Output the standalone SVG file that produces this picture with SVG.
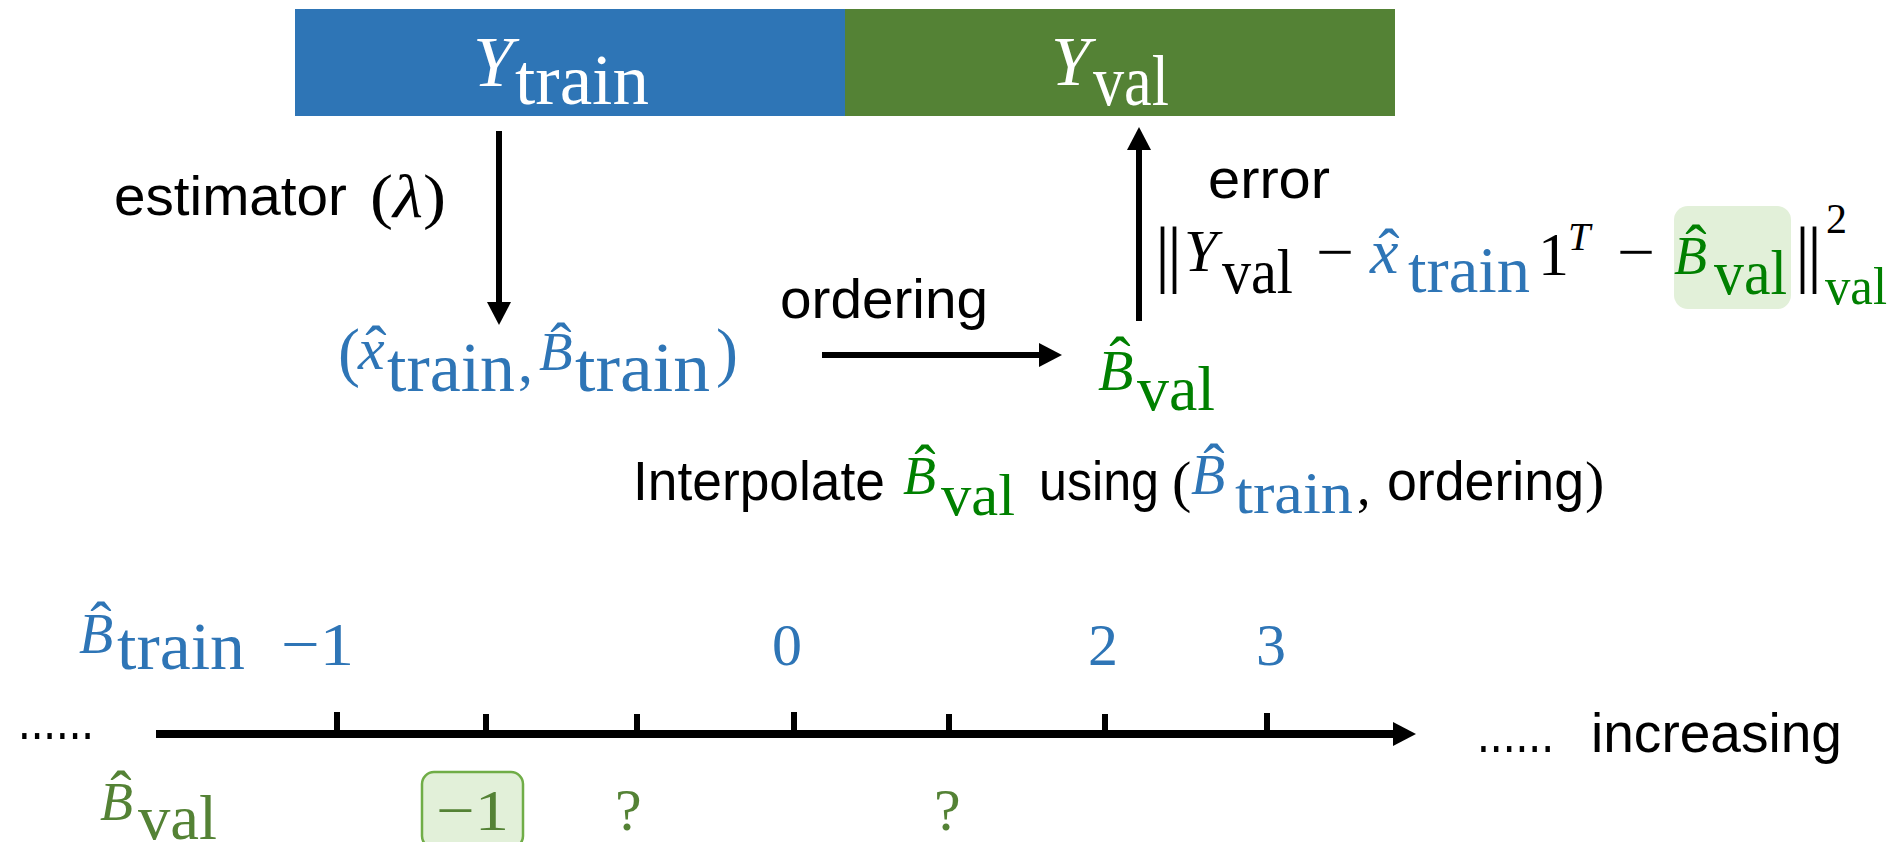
<svg xmlns="http://www.w3.org/2000/svg" width="1901" height="842" viewBox="0 0 1901 842">
<style>
.lab{font-family:"Liberation Sans",Arial,sans-serif;font-size:56px;fill:#000}
.m{font-family:"Liberation Serif","Times New Roman",serif}
.i{font-style:italic}
.b{fill:#2E75B6}
.g{fill:#008000}
.o{fill:#548235}
.w{fill:#FFFFFF}
.k{fill:#000}
.nb{font-size:75px;letter-spacing:-3px}
.hat{font-family:"Liberation Serif","Times New Roman",serif;font-size:64px;text-anchor:middle}
.conn{stroke:#000;stroke-width:6;fill:none}
</style>
<defs>
<marker id="ah" viewBox="0 -12 23 24" refX="1" refY="0" markerWidth="23" markerHeight="24" markerUnits="userSpaceOnUse" orient="auto">
<path d="M0,-12 L23,0 L0,12 z" fill="#000"/>
</marker>
</defs>

<g id="data-bar">
<rect x="295" y="9" width="550" height="107" fill="#2E75B6"/>
<rect x="845" y="9" width="550" height="107" fill="#548235"/>
<text class="m i w" x="473" y="86" font-size="72">Y</text>
<text class="m w" x="515" y="104" font-size="72" textLength="134" lengthAdjust="spacingAndGlyphs">train</text>
<text class="m i w" x="1051" y="85" font-size="70">Y</text>
<text class="m w" x="1093" y="105" font-size="72" textLength="76" lengthAdjust="spacingAndGlyphs">val</text>
</g>

<g id="connectors">
<line class="conn" x1="499" y1="131" x2="499" y2="303" marker-end="url(#ah)"/>
<line class="conn" x1="822" y1="355" x2="1040" y2="355" marker-end="url(#ah)"/>
<line class="conn" x1="1139" y1="321" x2="1139" y2="149" marker-end="url(#ah)"/>
</g>

<g id="estimator-label">
<text class="lab" x="114" y="215" textLength="233" lengthAdjust="spacingAndGlyphs">estimator</text>
<text class="m k" x="370" y="217" font-size="62" textLength="76" lengthAdjust="spacingAndGlyphs">(<tspan class="i">λ</tspan>)</text>
</g>

<g id="train-estimates">
<text class="m b" x="338" y="374" font-size="66">(</text>
<text class="m i b" x="358" y="369" font-size="60">x</text>
<text class="hat b" x="376" y="370">ˆ</text>
<text class="m b" x="387" y="391" font-size="70" textLength="128" lengthAdjust="spacingAndGlyphs">train</text>
<text class="m b" x="518" y="382" font-size="60">,</text>
<text class="m i b" x="539" y="370" font-size="55">B</text>
<text class="hat b" x="561" y="367">ˆ</text>
<text class="m b" x="575" y="391" font-size="70" textLength="135" lengthAdjust="spacingAndGlyphs">train</text>
<text class="m b" x="716" y="374" font-size="66">)</text>
</g>

<g id="ordering-label">
<text class="lab" x="780" y="318" textLength="208" lengthAdjust="spacingAndGlyphs">ordering</text>
</g>

<g id="val-estimate">
<text class="m i g" x="1098" y="390" font-size="58">B</text>
<text class="hat g" x="1120" y="381">ˆ</text>
<text class="m g" x="1137" y="410" font-size="64" textLength="78" lengthAdjust="spacingAndGlyphs">val</text>
</g>

<g id="error-label">
<text class="lab" x="1208" y="198" textLength="122" lengthAdjust="spacingAndGlyphs">error</text>
</g>

<g id="error-formula">
<rect x="1674" y="206" width="117" height="103" rx="14" fill="#E2F0D9"/>
<text class="m k nb" x="1155" y="278">||</text>
<text class="m i k" x="1184" y="271" font-size="60">Y</text>
<text class="m k" x="1222" y="293" font-size="64" textLength="71" lengthAdjust="spacingAndGlyphs">val</text>
<text class="m k" x="1316" y="272" font-size="60" textLength="38" lengthAdjust="spacingAndGlyphs">−</text>
<text class="m i b" x="1370" y="273" font-size="64">x</text>
<text class="hat b" x="1389" y="273">ˆ</text>
<text class="m b" x="1408" y="292" font-size="66" textLength="122" lengthAdjust="spacingAndGlyphs">train</text>
<text class="m k" x="1538" y="275" font-size="62">1</text>
<text class="m i k" x="1568" y="250" font-size="40">T</text>
<text class="m k" x="1617" y="272" font-size="60" textLength="38" lengthAdjust="spacingAndGlyphs">−</text>
<text class="m i g" x="1674" y="274" font-size="54">B</text>
<text class="hat g" x="1696" y="269">ˆ</text>
<text class="m g" x="1714" y="294" font-size="64" textLength="73" lengthAdjust="spacingAndGlyphs">val</text>
<text class="m k nb" x="1795" y="278">||</text>
<text class="m k" x="1826" y="233" font-size="42">2</text>
<text class="m g" x="1825" y="304" font-size="52" textLength="62" lengthAdjust="spacingAndGlyphs">val</text>
</g>

<g id="interpolate-note">
<text class="lab" x="633" y="500" font-size="54" textLength="252" lengthAdjust="spacingAndGlyphs">Interpolate</text>
<text class="m i g" x="903" y="494" font-size="54">B</text>
<text class="hat g" x="925" y="489">ˆ</text>
<text class="m g" x="941" y="515" font-size="60" textLength="74" lengthAdjust="spacingAndGlyphs">val</text>
<text class="lab" x="1039" y="500" font-size="54" textLength="120" lengthAdjust="spacingAndGlyphs">using</text>
<text class="m k" x="1172" y="501" font-size="58">(</text>
<text class="m i b" x="1191" y="494" font-size="56">B</text>
<text class="hat b" x="1214" y="488">ˆ</text>
<text class="m b" x="1235" y="513" font-size="60" textLength="118" lengthAdjust="spacingAndGlyphs">train</text>
<text class="m k" x="1357" y="505" font-size="54">,</text>
<text class="lab" x="1387" y="500" font-size="54" textLength="197" lengthAdjust="spacingAndGlyphs">ordering</text>
<text class="m k" x="1585" y="501" font-size="58">)</text>
</g>

<g id="number-line">
<line x1="156" y1="734" x2="1394" y2="734" stroke="#000" stroke-width="8" marker-end="url(#ah)"/>
<g stroke="#000" stroke-width="6">
<line x1="337" y1="712" x2="337" y2="734"/>
<line x1="486" y1="714" x2="486" y2="734"/>
<line x1="637" y1="714" x2="637" y2="734"/>
<line x1="794" y1="712" x2="794" y2="734"/>
<line x1="949" y1="714" x2="949" y2="734"/>
<line x1="1105" y1="714" x2="1105" y2="734"/>
<line x1="1267" y1="713" x2="1267" y2="734"/>
</g>
<text class="lab" x="18" y="739" font-size="55" textLength="76" lengthAdjust="spacingAndGlyphs">......</text>
<text class="lab" x="1477" y="752" font-size="55" textLength="77" lengthAdjust="spacingAndGlyphs">......</text>
<text class="lab" x="1591" y="752" font-size="55" textLength="251" lengthAdjust="spacingAndGlyphs">increasing</text>
</g>

<g id="train-values">
<text class="m i b" x="79" y="653" font-size="56">B</text>
<text class="hat b" x="101" y="646">ˆ</text>
<text class="m b" x="117" y="669" font-size="68" textLength="128" lengthAdjust="spacingAndGlyphs">train</text>
<text class="m b" x="281" y="665" font-size="62" textLength="73" lengthAdjust="spacingAndGlyphs">−1</text>
<text class="m b" x="772" y="665" font-size="60">0</text>
<text class="m b" x="1088" y="665" font-size="60">2</text>
<text class="m b" x="1256" y="665" font-size="60">3</text>
</g>

<g id="val-values">
<text class="m i o" x="100" y="820" font-size="54">B</text>
<text class="hat o" x="121" y="815">ˆ</text>
<text class="m o" x="138" y="839" font-size="64" textLength="79" lengthAdjust="spacingAndGlyphs">val</text>
<rect x="422" y="772" width="101" height="76" rx="12" fill="#E2F0D9" stroke="#70AD47" stroke-width="2.5"/>
<text class="m o" x="436" y="830" font-size="58" textLength="73" lengthAdjust="spacingAndGlyphs">−1</text>
<text class="m o" x="615" y="830" font-size="60">?</text>
<text class="m o" x="934" y="830" font-size="60">?</text>
</g>
</svg>
